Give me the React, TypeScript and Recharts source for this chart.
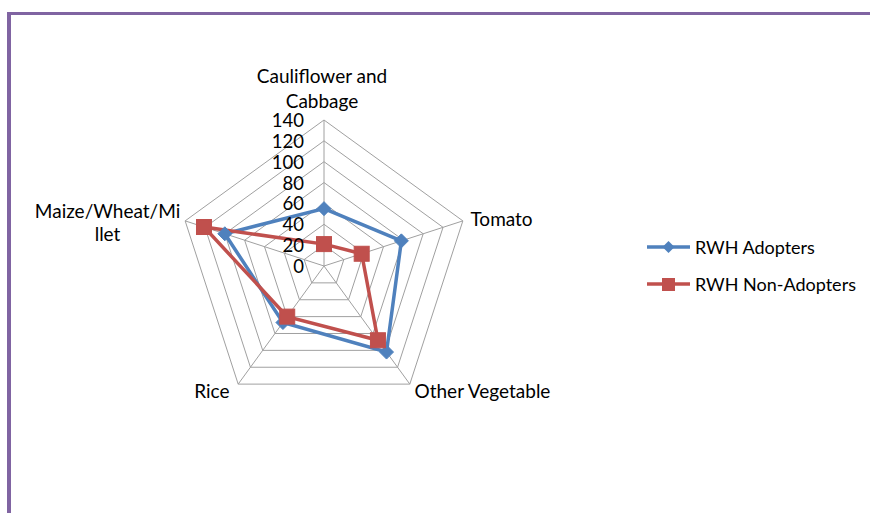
import React from 'react';
import { RadarChart, Radar, PolarGrid, PolarAngleAxis, PolarRadiusAxis } from 'recharts';

const categories = ['Cauliflower and Cabbage', 'Tomato', 'Other Vegetable', 'Rice', 'Maize/Wheat/Millet'];
const categoryLines = [['Cauliflower and', 'Cabbage'], ['Tomato'], ['Other Vegetable'], ['Rice'], ['Maize/Wheat/Mi', 'llet']];
const adopters = [55, 78, 102, 67, 100];
const nonAdopters = [21, 38, 88, 60, 121];
const radiusTicks = [0, 20, 40, 60, 80, 100, 120, 140];
const seriesNames = ['RWH Adopters', 'RWH Non-Adopters'];

const data = categories.map((c, i) => ({ category: c, adopters: adopters[i], nonAdopters: nonAdopters[i] }));

const BLUE = '#4F81BD';
const RED = '#C0504D';
const FONT = 'Lato, "Liberation Sans", sans-serif';

const Diamond = (p: any) => {
  const { cx, cy } = p;
  if (cx == null || cy == null) return <g key={p.key} />;
  const r = 7;
  return <path key={p.key} d={`M${cx},${cy - r}L${cx + r},${cy}L${cx},${cy + r}L${cx - r},${cy}Z`} fill={BLUE} stroke={BLUE} strokeWidth={1} />;
};

const Square = (p: any) => {
  const { cx, cy } = p;
  if (cx == null || cy == null) return <g key={p.key} />;
  const h = 7.5;
  return <rect key={p.key} x={cx - h} y={cy - h} width={2 * h} height={2 * h} fill={RED} stroke={RED} strokeWidth={1} />;
};

const AngleTick = (props: any) => {
  const { x, y, index } = props;
  const lines = categoryLines[index] || [String(props.payload?.value)];
  const style = { fontFamily: FONT, fontSize: 19, fill: '#000' };
  if (index === 0) {
    return (
      <text textAnchor="middle" dominantBaseline="central" style={style}>
        <tspan x={x - 2} y={y - 37}>{lines[0]}</tspan>
        <tspan x={x - 2} y={y - 12}>{lines[1]}</tspan>
      </text>
    );
  }
  if (index === 1) {
    return <text x={x} y={y} textAnchor="start" dominantBaseline="central" style={style}>{lines[0]}</text>;
  }
  if (index === 2) {
    return <text x={x} y={y} textAnchor="start" dominantBaseline="central" style={style}>{lines[0]}</text>;
  }
  if (index === 3) {
    return <text x={x - 4} y={y} textAnchor="end" dominantBaseline="central" style={style}>{lines[0]}</text>;
  }
  return (
    <text textAnchor="middle" dominantBaseline="central" style={style}>
      <tspan x={x - 70} y={y - 8}>{lines[0]}</tspan>
      <tspan x={x - 70} y={y + 15}>{lines[1]}</tspan>
    </text>
  );
};

const RadiusTick = (props: any) => {
  const { x, y, payload } = props;
  return (
    <text x={x - 20} y={y} textAnchor="end" dominantBaseline="central" style={{ fontFamily: FONT, fontSize: 18.5, fill: '#000' }}>
      {payload.value}
    </text>
  );
};

export default function App() {
  return (
    <div style={{ position: 'absolute', left: 0, top: 0, width: 870, height: 513, background: '#fff', overflow: 'hidden' }}>
      <div style={{ position: 'absolute', left: 7, top: 12, width: 900, height: 600, borderTop: '3.5px solid #8064A2', borderLeft: '4.5px solid #8064A2', boxSizing: 'border-box' }} />
      <div style={{ position: 'absolute', left: 0, top: 0 }}>
        <RadarChart width={870} height={513} data={data} cx={324} cy={266} outerRadius={146} startAngle={90} endAngle={-270}>
          <PolarGrid gridType="polygon" stroke="#A0A0A0" strokeWidth={1} />
          <PolarAngleAxis dataKey="category" tick={AngleTick} tickLine={false} axisLine={false} />
          <PolarRadiusAxis angle={90} domain={[0, 140]} ticks={radiusTicks} tickCount={8} tick={RadiusTick} axisLine={false} tickLine={false} />
          <Radar name={seriesNames[0]} dataKey="adopters" stroke={BLUE} strokeWidth={3.5} fill="none" fillOpacity={0} dot={Diamond} isAnimationActive={false} />
          <Radar name={seriesNames[1]} dataKey="nonAdopters" stroke={RED} strokeWidth={3.5} fill="none" fillOpacity={0} dot={Square} isAnimationActive={false} />
        </RadarChart>
      </div>
      <div style={{ position: 'absolute', left: 647, top: 235, fontFamily: FONT, fontSize: 18, color: '#000' }}>
        {seriesNames.map((n, i) => (
          <div key={n} style={{ display: 'flex', alignItems: 'center', height: 24, marginBottom: i === 0 ? 13 : 0 }}>
            <svg width={46} height={24}>
              <line x1={0} y1={12} x2={43} y2={12} stroke={i === 0 ? BLUE : RED} strokeWidth={3.5} />
              {i === 0 ? (
                <path d="M21.5,6L27.5,12L21.5,18L15.5,12Z" fill={BLUE} />
              ) : (
                <rect x={15} y={6} width={13} height={13} fill={RED} />
              )}
            </svg>
            <span style={{ marginLeft: 2 }}>{n}</span>
          </div>
        ))}
      </div>
    </div>
  );
}
